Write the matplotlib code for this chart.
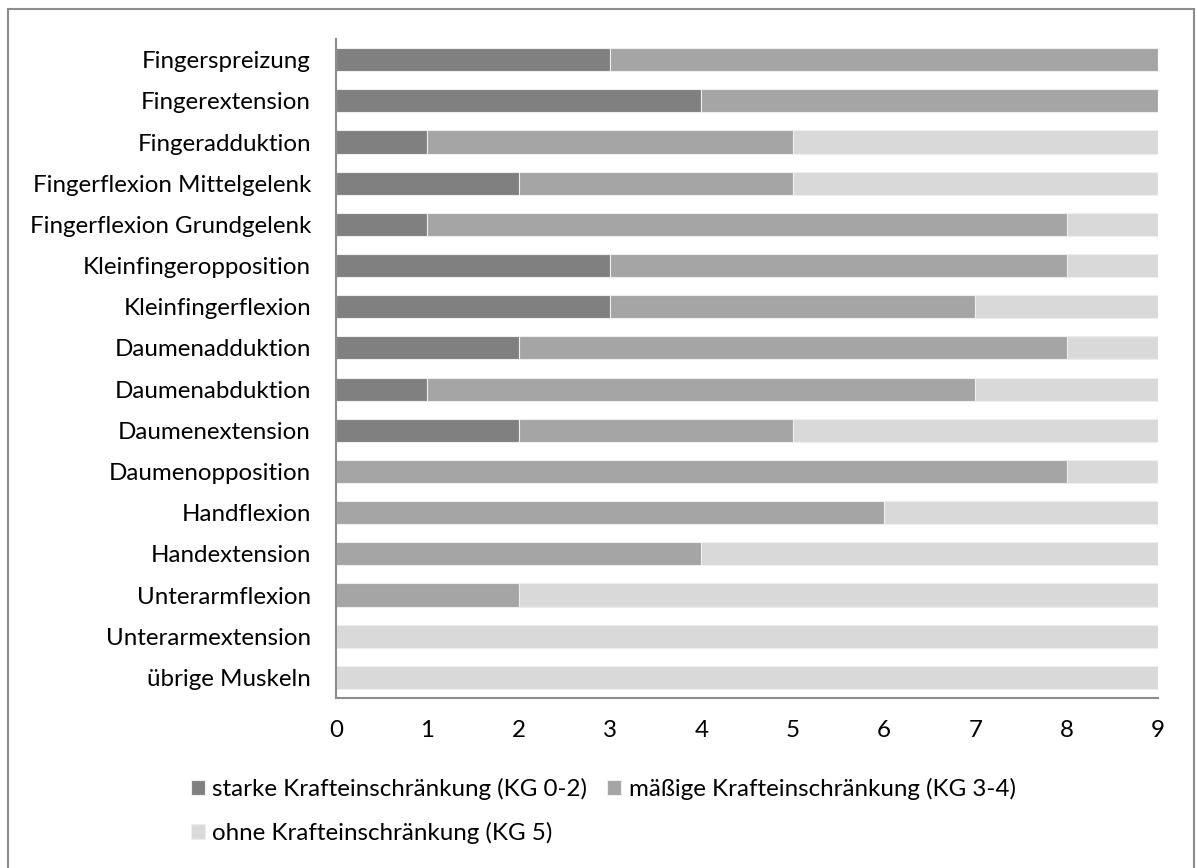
import matplotlib.pyplot as plt
from matplotlib.patches import Rectangle
import numpy as np

plt.rcParams["font.family"] = ["Lato", "DejaVu Sans"]

# Muskelgruppen von oben nach unten
muskeln = [
    "Fingerspreizung",
    "Fingerextension",
    "Fingeradduktion",
    "Fingerflexion Mittelgelenk",
    "Fingerflexion Grundgelenk",
    "Kleinfingeropposition",
    "Kleinfingerflexion",
    "Daumenadduktion",
    "Daumenabduktion",
    "Daumenextension",
    "Daumenopposition",
    "Handflexion",
    "Handextension",
    "Unterarmflexion",
    "Unterarmextension",
    "übrige Muskeln",
]

# Anzahl Patienten je Kraftgrad
stark = [3, 4, 1, 2, 1, 3, 3, 2, 1, 2, 0, 0, 0, 0, 0, 0]
maessig = [6, 5, 4, 3, 7, 5, 4, 6, 6, 3, 8, 6, 4, 2, 0, 0]
ohne = [0, 0, 4, 4.04, 1, 1, 2, 1, 2, 4, 1.03, 3, 5, 7, 9, 9]

serien = [
    ("starke Krafteinschränkung (KG 0-2)", stark, "#808080"),
    ("mäßige Krafteinschränkung (KG 3-4)", maessig, "#a5a5a5"),
    ("ohne Krafteinschränkung (KG 5)", ohne, "#d9d9d9"),
]

fs = 17.4

fig = plt.figure(figsize=(11.97, 8.68), dpi=100)
ax = fig.add_axes([0.2807, 0.1959, 0.6867, 0.7591])

# gestapelte Balken
y = np.arange(len(muskeln))
links = np.zeros(len(muskeln))
balken = []
for name, werte, farbe in serien:
    werte = np.array(werte, dtype=float)
    b = ax.barh(y, werte, left=links, height=0.56, color=farbe,
                edgecolor="#eeeeee", linewidth=0.8, label=name)
    balken.append(b)
    links += werte

ax.set_ylim(len(muskeln) - 0.5, -0.5)
ax.set_xlim(0, 9)
ax.set_xticks(range(10))
ax.set_yticks(y)
ax.set_yticklabels(muskeln, fontsize=fs)
ax.tick_params(axis="x", length=0, pad=16, labelsize=fs)
ax.tick_params(axis="y", length=0, pad=18)

for s in ["top", "right"]:
    ax.spines[s].set_visible(False)
for s in ["left", "bottom"]:
    ax.spines[s].set_color("#8c8c8c")
    ax.spines[s].set_linewidth(1.5)

# Legende zeilenweise: stark, mäßig / ohne
reihenfolge = [0, 2, 1]
fig.legend([balken[i] for i in reihenfolge],
           [serien[i][0] for i in reihenfolge],
           loc="upper left", bbox_to_anchor=(0.1596, 0.1037), ncol=2,
           frameon=False, fontsize=fs, handlelength=0.58,
           handleheight=0.58, handletextpad=0.3, columnspacing=0.83,
           labelspacing=0.92, borderpad=0, borderaxespad=0)

# Rahmen um das ganze Diagramm
fig.patches.append(Rectangle((0.0067, -0.05), 0.9904, 1.0396,
                             transform=fig.transFigure, fill=False,
                             edgecolor="#8c8c8c", linewidth=1.5))

fig.savefig("out.png", dpi=100)
